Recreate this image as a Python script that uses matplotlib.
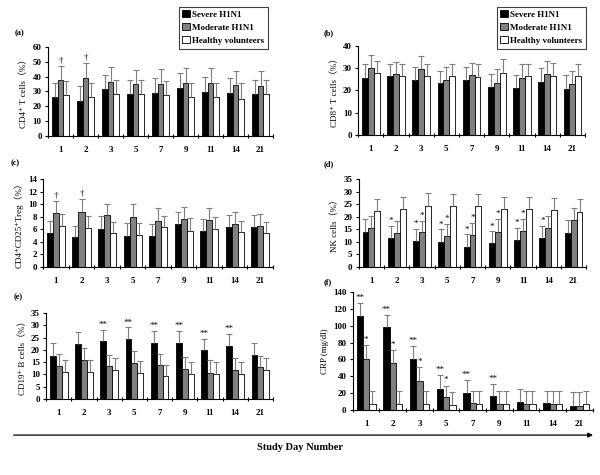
import matplotlib
matplotlib.use('Agg')
import matplotlib.pyplot as plt
import numpy as np
from matplotlib.patches import Patch, FancyArrowPatch

plt.rcParams['font.family'] = ['Liberation Serif', 'DejaVu Serif', 'Noto Sans CJK SC']
plt.rcParams['axes.linewidth'] = 0.8

days = ['1', '2', '3', '5', '7', '9', '11', '14', '21']
groups = ['Severe H1N1', 'Moderate H1N1', 'Healthy volunteers']

# (a) CD4+ T cells
cd4_sev = [26, 23.5, 31.5, 28, 29, 32, 29.5, 29, 28]
cd4_mod = [37.5, 39, 36.5, 35, 35, 35.5, 35.5, 34.5, 33.5]
cd4_hea = [27.5, 26.5, 28, 28.5, 27.5, 26.5, 26.5, 25, 28]
cd4_sev_err = [9.5, 10.5, 9.5, 10, 10, 10.5, 10.5, 10, 10]
cd4_mod_err = [10, 10, 10, 9.5, 10, 10, 10, 9.5, 10]
cd4_hea_err = [9.5, 9.5, 10, 9.5, 9.5, 9.5, 9.5, 10.5, 10]

# (b) CD8+ T cells
cd8_sev = [25.5, 26.5, 24.5, 23.5, 24.5, 21.5, 21, 24, 20.5]
cd8_mod = [30, 27.5, 29.5, 24.5, 27, 23.5, 25.5, 27.5, 23]
cd8_hea = [28, 26.5, 26.5, 26.5, 26, 28, 26.5, 26.5, 26.5]
cd8_sev_err = [6.5, 5.5, 6, 5.5, 6, 6, 6, 6, 6.5]
cd8_mod_err = [6, 5.5, 6, 6, 5.5, 6, 6.5, 6, 6]
cd8_hea_err = [5.5, 5.5, 5.5, 5.5, 6, 6, 5.5, 6, 5.5]

# (c) CD4+CD25+ Treg
treg_sev = [5.4, 4.7, 6.1, 5.0, 4.9, 6.9, 5.7, 6.4, 6.3]
treg_mod = [8.6, 8.7, 8.2, 8.0, 7.4, 7.7, 7.5, 6.9, 6.6]
treg_hea = [6.5, 6.2, 5.4, 5.1, 6.3, 5.8, 6.1, 5.5, 5.4]
treg_sev_err = [2.0, 1.9, 2.0, 2.0, 1.9, 1.9, 2.0, 1.9, 2.0]
treg_mod_err = [1.9, 2.2, 1.9, 2.0, 2.0, 1.9, 1.9, 1.9, 1.9]
treg_hea_err = [1.9, 1.9, 1.8, 1.9, 1.8, 2.0, 1.9, 1.8, 1.8]

# (d) NK cells
nk_sev = [14, 11.7, 10.3, 9.8, 7.9, 9.4, 10.9, 11.7, 13.6]
nk_mod = [15.4, 13.6, 13.8, 12.5, 12.9, 14.1, 14.5, 15.6, 18.6]
nk_hea = [22.2, 23.1, 24.2, 24.2, 24.2, 22.9, 22.9, 22.7, 22]
nk_sev_err = [5.2, 4.8, 5.0, 5.2, 5.1, 4.8, 4.8, 4.7, 5.2]
nk_mod_err = [4.8, 4.9, 4.6, 4.7, 4.7, 5.0, 4.7, 4.8, 5.0]
nk_hea_err = [5.0, 4.9, 5.3, 5.0, 4.9, 5.1, 5.1, 4.9, 5.2]

# (e) CD19+ B cells
b_sev = [17.7, 22.2, 23.5, 24.3, 22.8, 22.6, 19.8, 21.5, 18]
b_mod = [13.6, 16, 13.5, 14.7, 13.7, 12.4, 10.7, 11.7, 13]
b_hea = [11.1, 11.1, 12, 10.7, 9.5, 10.2, 10.3, 10.2, 11.9]
b_sev_err = [5.0, 5.1, 4.7, 4.9, 5.0, 5.2, 4.8, 5.1, 5.0]
b_mod_err = [4.7, 4.7, 4.6, 4.8, 4.6, 4.7, 5.1, 5.0, 4.6]
b_hea_err = [4.7, 4.8, 4.7, 4.9, 4.5, 4.9, 4.8, 4.9, 4.8]

# (f) CRP
crp_sev = [112, 98, 60, 25, 20, 16, 10, 8, 5]
crp_mod = [61, 56, 34.5, 15, 8, 7, 7, 6.5, 5]
crp_hea = [7, 7, 7, 6, 7, 7, 7, 7, 7]
crp_sev_err = [15, 15, 16, 17, 16, 15, 15, 15, 16]
crp_mod_err = [16, 15, 16.5, 14, 15, 15, 15, 15.5, 16]
crp_hea_err = [15, 15, 15, 15, 15, 15, 15, 15, 15]

colors = ['black', '#808080', 'white']
err_col = '#7f7f7f'


def panel(rect, tag, tag_xy, ylabel, ymax, ystep, series, errs, marks):
    ax = fig.add_axes(rect)
    x = np.arange(len(days)) + 0.5
    w = 0.235
    for k in range(3):
        xs = x + (k - 1) * w
        ax.bar(xs, series[k], w, color=colors[k], edgecolor='black', linewidth=0.6, zorder=2)
        tops = np.array(series[k]) + np.array(errs[k])
        ax.vlines(xs, series[k], tops, color=err_col, linewidth=0.8, zorder=3)
        ax.plot(xs, tops, linestyle='none', marker='_', markersize=4.5, color=err_col, mew=0.8, zorder=3)
    # significance marks: (group index, bar index, text)
    for k, i, s in marks:
        top = series[k][i] + errs[k][i]
        ax.text(x[i] + (k - 1) * w, top + ymax * 0.01, s, ha='center', va='bottom',
                fontsize=6.5)
    ax.set_xlim(0, len(days))
    ax.set_ylim(0, ymax)
    ax.set_yticks(np.arange(0, ymax + 0.01, ystep))
    ax.set_xticks(x)
    ax.set_xticklabels(days)
    ax.set_xticks(np.arange(0, len(days) + 1), minor=True)
    ax.tick_params(axis='x', which='major', length=0, pad=7, labelsize=6.5)
    ax.tick_params(axis='x', which='minor', length=3, direction='inout', width=0.8)
    ax.tick_params(axis='y', length=2.5, width=0.8, pad=2, labelsize=6.5)
    for lab in ax.get_xticklabels() + ax.get_yticklabels():
        lab.set_fontweight('bold')
    ax.spines['top'].set_visible(False)
    ax.spines['right'].set_visible(False)
    ax.set_ylabel(ylabel, fontsize=6.5, labelpad=3)
    fig.text(tag_xy[0], tag_xy[1], tag, fontsize=6, fontweight='bold')
    return ax


fig = plt.figure(figsize=(6, 4.75), dpi=100)

panel([0.080, 0.714, 0.375, 0.187], '(a)', (0.025, 0.925), 'CD4⁺ T cells（%）', 60, 10,
      [cd4_sev, cd4_mod, cd4_hea], [cd4_sev_err, cd4_mod_err, cd4_hea_err],
      [(1, 0, '†'), (1, 1, '†')])
panel([0.597, 0.716, 0.378, 0.187], '(b)', (0.540, 0.925), 'CD8⁺ T cells（%）', 40, 10,
      [cd8_sev, cd8_mod, cd8_hea], [cd8_sev_err, cd8_mod_err, cd8_hea_err], [])
panel([0.072, 0.438, 0.383, 0.185], '(c)', (0.017, 0.652), 'CD4⁺CD25⁺Treg（%）', 14, 2,
      [treg_sev, treg_mod, treg_hea], [treg_sev_err, treg_mod_err, treg_hea_err],
      [(1, 0, '†'), (1, 1, '†')])
panel([0.598, 0.438, 0.379, 0.185], '(d)', (0.540, 0.650), 'NK cells（%）', 35, 5,
      [nk_sev, nk_mod, nk_hea], [nk_sev_err, nk_mod_err, nk_hea_err],
      [(0, 1, '*'), (0, 2, '*'), (1, 2, '*'), (0, 3, '*'), (1, 3, '*'), (0, 4, '*'),
       (1, 4, '*'), (0, 5, '*'), (1, 5, '*'), (0, 6, '*'), (1, 6, '*'), (0, 7, '*')])
panel([0.077, 0.160, 0.378, 0.181], '(e)', (0.022, 0.370), 'CD19⁺ B cells（%）', 35, 5,
      [b_sev, b_mod, b_hea], [b_sev_err, b_mod_err, b_hea_err],
      [(0, i, '**') for i in range(2, 8)])
panel([0.588, 0.137, 0.400, 0.248], '(f)', (0.540, 0.402), 'CRP (mg/dl)', 140, 20,
      [crp_sev, crp_mod, crp_hea], [crp_sev_err, crp_mod_err, crp_hea_err],
      [(0, i, '**') for i in range(6)] + [(1, i, '*') for i in range(4)])

handles = [Patch(facecolor=c, edgecolor='black', linewidth=0.6) for c in colors]
for lx in (0.298, 0.828):
    leg = fig.legend(handles, groups, loc='upper left', bbox_to_anchor=(lx, 0.986),
                     prop={'size': 6.5, 'weight': 'bold'}, fancybox=False, framealpha=1,
                     edgecolor='#404040', handlelength=0.8, handleheight=0.8,
                     handletextpad=0.3, labelspacing=0.5, borderpad=0.4, borderaxespad=0)
    leg.get_frame().set_linewidth(0.8)

fig.add_artist(FancyArrowPatch((0.018, 0.084), (0.993, 0.084), transform=fig.transFigure,
                               arrowstyle='-|>', mutation_scale=7, color='black', linewidth=0.9))
fig.text(0.5, 0.052, 'Study Day Number', ha='center', fontsize=7.5, fontweight='bold')

fig.savefig('out.png', dpi=100)
